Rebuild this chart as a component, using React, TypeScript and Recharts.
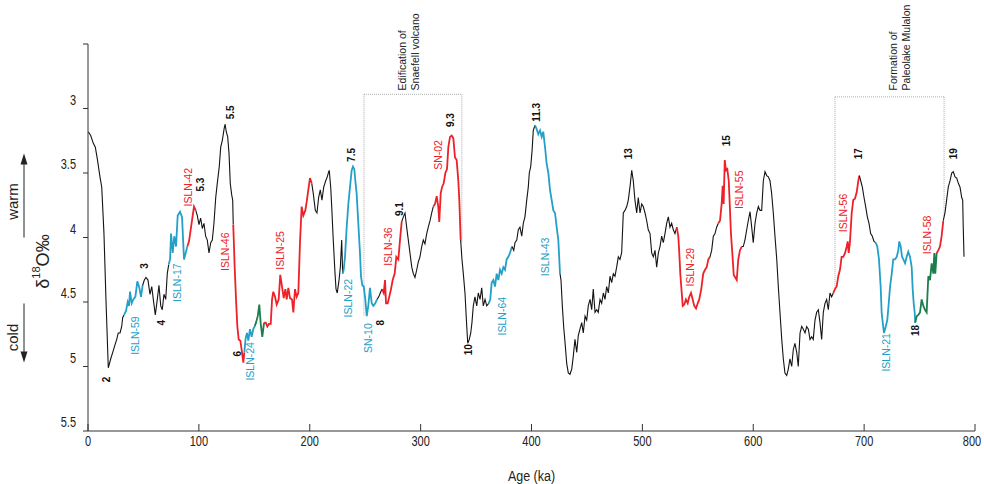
import React from 'react';
import { LineChart, Line, XAxis, YAxis, ReferenceLine, ReferenceDot, Label } from 'recharts';

// benthic d18O record (age in ka, d18O in per mil)
const ages = [
  0.3, 2.4, 4.8, 6.6, 8.4, 10.8, 12.4, 14.4, 16.2, 18.3, 20.5, 22.3, 24.4, 25.9, 27.3, 28.9, 30.4, 31.3,
  32.5, 34.3, 35.8, 37.0, 37.9, 39.4, 40.9, 42.7, 44.5, 46.3, 47.8,
  49.3, 50.8, 52.3, 54.1, 55.9, 57.5, 58.9, 60.7, 62.5, 64.0, 65.6, 67.0, 68.5, 70.1, 71.5,
  72.8, 74.0, 74.9, 76.4, 77.8, 79.4, 80.9, 83.0, 84.8, 86.6, 88.4,
  89.6, 91.1, 92.6, 94.1, 95.6,
  97.2, 98.6, 100.1, 101.6, 103.1, 104.6, 106.1, 107.6, 109.1, 110.7, 112.1, 113.6, 115.2, 116.6, 118.4, 119.7, 121.1, 122.7, 123.6, 124.7, 126.0, 127.2, 128.3, 129.6, 130.5,
  131.0, 132.3, 133.5, 134.7, 135.9, 137.4, 138.9, 140.1,
  141.0, 142.2, 143.4, 144.6, 146.1, 147.6, 149.1,
  150.3, 151.5, 153.1, 154.5, 155.8, 157.2,
  158.8, 160.3, 161.7, 163.2, 164.8, 166.0, 167.1, 168.7, 170.2, 172.0, 173.4, 175.0, 176.5, 178.0, 179.2, 180.7, 182.2, 184.0, 185.2, 186.7, 188.2, 189.7, 191.2, 192.7, 194.2, 196.0, 197.3, 198.7, 200.2,
  201.8, 203.2, 205.0, 206.5, 208.0, 209.5, 211.0, 212.6, 214.4, 215.8, 217.1, 217.6, 218.9, 219.8, 221.2, 222.8, 223.7, 224.8, 226.4, 227.6, 228.8,
  229.7, 230.6, 231.8, 233.3, 234.8, 236.3, 237.8, 239.0, 240.2, 241.1, 242.3, 243.8, 245.3, 246.2, 247.4, 248.7, 250.1, 251.4, 252.8, 254.3, 255.9, 257.3, 259.1,
  260.7, 262.2, 263.6,
  265.2, 266.7, 267.9, 268.8, 270.3, 271.7, 273.3, 274.8, 276.6, 278.1, 279.9, 281.4,
  282.9, 284.4, 285.9, 287.4, 288.9, 290.4, 292.0, 293.4, 294.9, 296.5, 297.9, 299.4, 301.0, 302.4, 303.9, 305.5, 306.9, 308.5, 310.0,
  311.4, 313.0, 314.5, 315.9, 316.8, 318.1, 319.3, 320.8, 322.3, 323.8, 325.0, 326.5, 328.0, 329.5, 331.0, 332.5, 334.0, 334.9,
  336.1, 337.3, 338.5, 340.0, 341.6, 342.5, 343.9, 345.2, 346.3, 347.5, 349.0, 350.6, 352.0, 353.6, 355.1, 356.5, 358.1, 359.6,
  361.4, 362.8, 364.1, 365.6, 367.1, 368.6, 370.1, 371.6, 373.1, 374.6, 376.1, 377.6, 379.1, 380.6,
  382.4, 384.0, 385.1, 386.7, 388.1, 389.6, 391.2, 392.6, 394.1, 395.7, 397.1, 398.0, 399.3, 400.5, 401.6,
  403.2, 404.7, 406.1, 407.7, 409.2, 410.6, 412.2, 413.7, 415.2, 416.7, 418.2, 419.7, 421.2, 422.7, 424.2,
  425.7, 426.6, 427.8, 429.0, 430.5, 431.8, 433.2, 434.7, 436.3, 437.7, 439.2, 440.8, 442.2, 443.7, 445.3, 446.7, 448.3, 449.8, 451.2, 452.8, 454.3, 455.7, 457.3, 458.8, 460.2,
  461.8, 463.3, 464.8, 466.3, 467.8, 469.3, 470.8, 472.3, 473.8, 475.3, 476.8, 478.3, 479.8, 481.3, 482.8, 484.3, 485.9, 487.3, 488.8, 490.4, 491.8, 493.3, 494.9, 496.3, 497.9,
  499.4, 500.8, 502.4, 503.9, 505.3, 506.9, 508.4, 509.9, 511.4, 512.9, 514.4, 515.9, 517.4, 518.9, 520.4, 521.9, 523.4, 524.9, 526.4, 527.9, 529.4,
  531.0, 532.4, 533.3, 534.2, 535.5, 536.4, 537.8, 539.3, 540.9, 542.3, 543.9, 545.4, 546.8, 548.4, 549.9, 551.3, 553.1, 554.9, 556.5, 558.0, 559.5,
  561.0, 562.5, 564.0, 565.5, 567.0,
  568.5, 570.0, 571.5, 572.4, 573.3, 574.3, 575.4, 576.6, 577.9, 578.8, 579.9, 581.1, 582.4, 583.8, 585.1, 586.5, 588.0,
  589.6, 591.0, 592.5, 594.1, 595.5, 597.1, 598.6, 600.0, 601.6, 603.1, 604.6, 606.1, 607.6, 609.1, 610.6, 612.1, 613.6, 615.1, 616.6, 618.1,
  619.6, 621.2, 622.6, 624.1, 625.7, 627.1, 628.6, 630.2, 631.6, 633.1, 634.7, 636.1, 637.6, 639.2, 640.6, 642.2, 643.7, 645.1, 646.7, 648.2,
  649.7, 651.2, 652.7, 654.1, 655.7, 657.2, 658.7, 660.2, 661.7, 663.2, 664.7, 666.2, 667.7, 669.2, 670.7,
  672.2, 673.7, 675.2, 676.7, 678.2, 679.7, 681.2, 682.8, 684.3, 685.2, 686.1, 687.2, 688.8, 690.2, 691.7, 693.3, 694.8,
  695.7, 696.9, 698.4, 699.9, 701.4, 702.9, 704.4, 705.9, 707.4, 708.9,
  710.4, 711.9, 713.4, 714.9, 715.8, 716.8, 717.9, 719.5, 720.9, 722.2, 723.4, 724.9, 726.3, 727.8, 729.4, 730.8, 731.7, 733.0, 734.2, 735.4, 736.9, 738.4, 739.8, 741.4, 742.9, 743.8, 744.7, 745.6,
  746.1, 747.4, 748.9, 750.4, 751.9, 753.4, 754.9, 756.4, 757.9, 759.4, 760.9, 762.4, 763.3, 764.2,
  765.4, 766.9, 768.4, 769.9,
  771.4, 772.9, 774.4, 775.9, 777.5, 779.0, 780.4, 782.0, 783.5, 785.0, 786.5, 788.0, 788.9, 789.4, 790.1,
];

const d18O = [
  3.18, 3.21, 3.27, 3.30, 3.39, 3.53, 3.61, 3.97, 4.48, 5.01, 4.94, 4.89, 4.83, 4.79, 4.74, 4.74, 4.69, 4.62,
  4.60, 4.57, 4.50, 4.53, 4.42, 4.51, 4.48, 4.46, 4.34, 4.39, 4.46,
  4.37, 4.33, 4.31, 4.33, 4.44, 4.38, 4.48, 4.60, 4.48, 4.37, 4.53, 4.56, 4.44, 4.48, 4.28,
  4.21, 4.17, 3.97, 4.12, 3.99, 4.07, 3.83, 3.80, 3.84, 4.17, 4.11,
  4.07, 4.03, 3.94, 3.85, 3.76,
  3.79, 3.83, 3.90, 3.85, 3.93, 3.89, 3.99, 4.02, 4.12, 4.04, 4.02, 3.89, 3.69, 3.58, 3.45, 3.30, 3.25, 3.16, 3.12, 3.18, 3.22, 3.35, 3.58, 3.67, 3.71,
  3.90, 4.23, 4.48, 4.69, 4.79, 4.80, 4.89, 4.97,
  4.89, 4.78, 4.74, 4.80, 4.71, 4.77, 4.71,
  4.69, 4.66, 4.61, 4.52, 4.67, 4.77,
  4.66, 4.66, 4.69, 4.67, 4.67, 4.48, 4.42, 4.46, 4.52, 4.48, 4.29, 4.38, 4.47, 4.40, 4.48, 4.39, 4.47, 4.48, 4.58, 4.40, 4.46, 4.43, 4.04, 3.76, 3.83, 3.79, 3.72, 3.63, 3.54,
  3.58, 3.66, 3.79, 3.81, 3.69, 3.63, 3.71, 3.61, 3.56, 3.53, 3.49, 3.48, 3.61, 3.76, 4.02, 4.28, 4.40, 4.43, 4.33, 4.23, 4.02,
  4.28, 4.25, 4.15, 3.92, 3.74, 3.61, 3.48, 3.45, 3.47, 3.56, 3.66, 3.89, 4.12, 4.30, 4.37, 4.38, 4.48, 4.61, 4.53, 4.39, 4.51, 4.53, 4.51,
  4.48, 4.46, 4.43,
  4.40, 4.43, 4.33, 4.51, 4.51, 4.46, 4.40, 4.33, 4.28, 4.15, 4.17, 4.02,
  3.88, 3.84, 3.81, 3.92, 4.02, 4.12, 4.23, 4.28, 4.31, 4.25, 4.19, 4.15, 4.07, 4.02, 4.05, 3.97, 3.92, 3.87, 3.81,
  3.76, 3.74, 3.68, 3.76, 3.88, 3.66, 3.61, 3.58, 3.50, 3.47, 3.30, 3.22, 3.21, 3.23, 3.38, 3.40, 3.56, 3.71,
  4.02, 4.17, 4.28, 4.43, 4.69, 4.82, 4.79, 4.74, 4.66, 4.53, 4.46, 4.53, 4.43, 4.48, 4.39, 4.53, 4.48, 4.53,
  4.51, 4.48, 4.35, 4.33, 4.38, 4.28, 4.33, 4.25, 4.28, 4.23, 4.25, 4.17, 4.15, 4.12,
  4.07, 4.10, 4.04, 4.02, 3.94, 3.92, 3.99, 3.89, 3.84, 3.71, 3.61, 3.50, 3.45, 3.33, 3.17,
  3.13, 3.16, 3.20, 3.17, 3.22, 3.18, 3.30, 3.43, 3.50, 3.63, 3.71, 3.79, 3.81, 3.92, 4.02,
  4.28, 4.33, 4.53, 4.69, 4.84, 4.98, 5.05, 5.06, 5.02, 4.92, 4.79, 4.89, 4.76, 4.71, 4.66, 4.74, 4.61, 4.64, 4.53, 4.48, 4.56, 4.40, 4.58, 4.56, 4.58,
  4.48, 4.51, 4.43, 4.48, 4.38, 4.43, 4.30, 4.35, 4.28, 4.30, 4.23, 4.15, 4.17, 4.12, 3.81, 3.79, 3.76, 3.71, 3.61, 3.48, 3.56, 3.71, 3.81, 3.69, 3.81,
  3.74, 3.76, 3.81, 3.87, 3.94, 3.97, 4.12, 4.15, 4.10, 4.23, 4.12, 4.07, 3.99, 4.04, 3.97, 3.89, 3.84, 3.92, 3.89, 3.94, 3.97,
  3.92, 3.99, 4.12, 4.28, 4.43, 4.53, 4.52, 4.48, 4.51, 4.46, 4.43, 4.48, 4.53, 4.55, 4.51, 4.48, 4.40, 4.28, 4.25, 4.23, 4.17,
  4.15, 4.10, 3.99, 3.97, 3.92,
  3.89, 3.87, 3.74, 3.60, 3.74, 3.40, 3.48, 3.47, 3.56, 3.74, 3.97, 4.12, 4.29, 4.31, 4.33, 4.17, 4.10,
  4.07, 4.07, 4.02, 3.94, 3.87, 3.80, 3.92, 4.04, 3.89, 3.81, 3.76, 3.79, 3.79, 3.56, 3.49, 3.52, 3.53, 3.56, 3.66, 3.81,
  3.99, 4.17, 4.38, 4.58, 4.79, 4.94, 5.05, 5.07, 5.02, 4.94, 5.00, 4.87, 4.82, 4.89, 5.00, 4.74, 4.69, 4.71, 4.74, 4.69,
  4.71, 4.79, 4.77, 4.79, 4.64, 4.58, 4.56, 4.66, 4.79, 4.58, 4.51, 4.48, 4.56, 4.43, 4.46,
  4.43, 4.40, 4.38, 4.30, 4.25, 4.15, 4.15, 4.12, 4.07, 4.03, 4.12, 4.04, 3.81, 3.71, 3.70, 3.65, 3.56,
  3.52, 3.56, 3.61, 3.69, 3.76, 3.84, 3.89, 3.97, 3.99, 4.03,
  4.04, 4.07, 4.17, 4.38, 4.58, 4.66, 4.74, 4.69, 4.64, 4.51, 4.38, 4.28, 4.17, 4.17, 4.15, 4.10, 4.03, 4.07, 4.15, 4.17, 4.20, 4.15, 4.11, 4.15, 4.23, 4.40, 4.51, 4.58,
  4.66, 4.61, 4.60, 4.58, 4.48, 4.53, 4.56, 4.58, 4.30, 4.33, 4.20, 4.28, 4.12, 4.28,
  4.12, 4.10, 4.07, 3.99,
  3.87, 3.81, 3.71, 3.61, 3.56, 3.50, 3.49, 3.53, 3.54, 3.58, 3.61, 3.69, 3.71, 3.92, 4.15,
];

// which sample group each stretch of the record belongs to: [from ka, to ka, group]
const stretches: [number, number, string][] = [
  [0.3, 32.5, 'k'], [32.5, 49.3, 'b'], [49.3, 72.8, 'k'], [72.8, 89.6, 'b'], [89.6, 97.2, 'r'],
  [97.2, 131.0, 'k'], [131.0, 141.0, 'r'], [141.0, 150.3, 'b'], [150.3, 158.8, 'g'], [158.8, 201.8, 'r'],
  [201.8, 229.7, 'k'], [229.7, 260.7, 'b'], [260.7, 265.2, 'k'], [265.2, 282.9, 'r'], [282.9, 311.4, 'k'],
  [311.4, 336.1, 'r'], [336.1, 361.4, 'k'], [361.4, 382.4, 'b'], [382.4, 403.2, 'k'], [403.2, 425.7, 'b'],
  [425.7, 531.0, 'k'], [531.0, 561.0, 'r'], [561.0, 568.5, 'k'], [568.5, 589.6, 'r'], [589.6, 672.2, 'k'],
  [672.2, 695.7, 'r'], [695.7, 710.4, 'k'], [710.4, 746.1, 'b'], [746.1, 765.4, 'g'], [765.4, 771.4, 'r'],
  [771.4, 790.1, 'k'],
];

// marine isotope stage numbers
const stageLabels: [number, number, string][] = [
  [17.1, 5.10, '2'], [51.4, 4.22, '3'], [66.5, 4.66, '4'], [101.4, 3.59, '5.3'], [128.7, 3.03, '5.5'],
  [134.7, 4.90, '6'], [237.8, 3.36, '7.5'], [263.4, 4.66, '8'], [281.4, 3.78, '9.1'], [326.5, 3.09, '9.3'],
  [343.0, 4.87, '10'], [404.7, 3.03, '11.3'], [487.3, 3.35, '13'], [576.1, 3.25, '15'], [694.7, 3.35, '17'],
  [745.9, 4.72, '18'], [780.4, 3.35, '19'],
];

// dated samples
const sampleLabels: [number, number, string, string][] = [
  [42.4, 4.76, 'ISLN-59', 'b'], [80.0, 4.35, 'ISLN-17', 'b'], [90.4, 3.61, 'ISLN-42', 'r'],
  [123.6, 4.11, 'ISLN-46', 'r'], [146.1, 4.96, 'ISLN-24', 'b'], [173.2, 4.10, 'ISLN-25', 'r'],
  [234.8, 4.47, 'ISLN-22', 'b'], [252.8, 4.78, 'SN-10', 'b'], [270.8, 4.07, 'ISLN-36', 'r'],
  [316.0, 3.36, 'SN-02', 'r'], [373.1, 4.61, 'ISLN-64', 'b'], [412.2, 4.15, 'ISLN-43', 'b'],
  [542.9, 4.23, 'ISLN-29', 'r'], [587.4, 3.63, 'ISLN-55', 'r'], [681.2, 3.81, 'ISLN-56', 'r'],
  [719.7, 4.89, 'ISLN-21', 'b'], [756.4, 3.98, 'ISLN-58', 'r'],
];

// bracketed events: text lines, bracket ends (ka), bracket top, where each leg meets the curve
const events = [
  { text: ['Edification of', 'Snaefell volcano'], textAge: [282.9, 294.9], from: 248.9, to: 337.2, top: 2.89, fromEnd: 4.61, toEnd: 4.04 },
  { text: ['Formation of', 'Paleolake Mulalon'], textAge: [726.0, 737.5], from: 673.7, to: 772.1, top: 2.91, fromEnd: 4.40, toEnd: 3.84 },
];

const xTicks = [0, 100, 200, 300, 400, 500, 600, 700, 800];
const yTicks = [2.5, 3, 3.5, 4, 4.5, 5, 5.5];

const COLORS: Record<string, string> = { k: '#141414', b: '#23a0c8', r: '#ee2128', g: '#1d7d4c' };
const FONT = "'Liberation Sans', Arial, sans-serif";
const AXIS = '#333';

const record = ages.map((age, i) => ({ age, d18O: d18O[i] }));

const rotated = (text: string, color: string, size: number, bold = false, anchor = 'middle') => (p: any) => (
  <text
    x={p.cx}
    y={p.cy}
    transform={`rotate(-90 ${p.cx} ${p.cy})`}
    textAnchor={anchor}
    dominantBaseline="central"
    fill={color}
    fontSize={size}
    fontWeight={bold ? 'bold' : 'normal'}
    fontFamily={FONT}
  >
    {text}
  </text>
);

// the source figure was stretched vertically, so horizontal text is drawn tall and narrow
const TallText = ({ x, y, size, children, anchor = 'middle' }: any) => (
  <text
    transform={`translate(${x} ${y}) scale(1 1.25)`}
    textAnchor={anchor}
    dominantBaseline="central"
    fontSize={size}
    fontFamily={FONT}
    fill="#222"
  >
    {children}
  </text>
);

const YTick = ({ x, y, payload }: any) =>
  payload.value === 2.5 ? <g /> : <TallText x={x} y={y - 8} size={11} anchor="end">{payload.value}</TallText>;

const XTick = ({ x, y, payload }: any) => (
  <g>
    <line x1={x} x2={x} y1={y} y2={y - 7} stroke={AXIS} />
    <TallText x={payload.value === 800 ? x - 3 : x} y={y + 11} size={11}>{payload.value}</TallText>
  </g>
);

const YTitle = ({ viewBox }: any) => {
  const cy = viewBox.y + viewBox.height / 2;
  const ax = 24;
  return (
    <g fill="#222" fontFamily={FONT}>
      <text x={12} y={cy - 36} transform={`rotate(-90 12 ${cy - 36})`} textAnchor="middle" dominantBaseline="central" fontSize={15}>warm</text>
      <text x={12} y={cy + 100} transform={`rotate(-90 12 ${cy + 100})`} textAnchor="middle" dominantBaseline="central" fontSize={15}>cold</text>
      <line x1={ax} x2={ax} y1={cy} y2={cy - 76} stroke="#222" strokeWidth={1} />
      <polygon points={`${ax},${cy - 84} ${ax - 3.5},${cy - 73} ${ax + 3.5},${cy - 73}`} fill="#222" />
      <line x1={ax} x2={ax} y1={cy + 66} y2={cy + 117} stroke="#222" strokeWidth={1} />
      <polygon points={`${ax},${cy + 125} ${ax - 3.5},${cy + 114} ${ax + 3.5},${cy + 114}`} fill="#222" />
      <text x={43} y={cy + 24} transform={`rotate(-90 43 ${cy + 24})`} textAnchor="middle" dominantBaseline="central" fontSize={18}>
        δ<tspan fontSize={11} dy={-7}>18</tspan><tspan dy={7}>O‰</tspan>
      </text>
    </g>
  );
};

const XTitle = ({ viewBox }: any) => (
  <text
    transform={`translate(${viewBox.x + viewBox.width / 2} ${viewBox.y + 45}) scale(1 1.2)`}
    textAnchor="middle"
    dominantBaseline="central"
    fontSize={12.5}
    fontFamily={FONT}
    fill="#222"
  >
    Age (ka)
  </text>
);

export default function App() {
  return (
    <div style={{ position: 'absolute', left: 0, top: 0, width: 984, height: 484, background: '#fff' }}>
      <LineChart width={984} height={484} margin={{ top: 44, right: 9, bottom: 0, left: 0 }}>
        <XAxis
          type="number"
          dataKey="age"
          domain={[0, 800]}
          ticks={xTicks}
          height={53}
          stroke={AXIS}
          tickLine={false}
          tickSize={0}
          tickMargin={0}
          tick={<XTick />}
          interval={0}
        >
          <Label content={<XTitle />} />
        </XAxis>
        <YAxis
          type="number"
          domain={[2.5, 5.5]}
          reversed
          ticks={yTicks}
          width={88}
          stroke={AXIS}
          tickSize={5}
          tickMargin={7}
          tick={<YTick />}
          interval={0}
        >
          <Label content={<YTitle />} />
        </YAxis>

        {events.map((e, i) => (
          <React.Fragment key={`ev-${i}`}>
            <ReferenceLine segment={[{ x: e.from, y: e.top }, { x: e.to, y: e.top }]} stroke="#aaa" strokeDasharray="1 1" />
            <ReferenceLine segment={[{ x: e.from, y: e.top }, { x: e.from, y: e.fromEnd }]} stroke="#aaa" strokeDasharray="1 1" />
            <ReferenceLine segment={[{ x: e.to, y: e.top }, { x: e.to, y: e.toEnd }]} stroke="#aaa" strokeDasharray="1 1" />
            {e.text.map((t, j) => (
              <ReferenceDot key={t} x={e.textAge[j]} y={2.86} r={0} ifOverflow="visible" shape={rotated(t, '#222', 10.5, false, 'start')} />
            ))}
          </React.Fragment>
        ))}

        {stretches.map(([from, to, grp], i) => (
          <Line
            key={`s-${i}`}
            data={record.filter((p) => p.age >= from && p.age <= to)}
            dataKey="d18O"
            type="linear"
            stroke={COLORS[grp]}
            strokeWidth={grp === 'k' ? 1.1 : 1.8}
            dot={false}
            activeDot={false}
            isAnimationActive={false}
          />
        ))}

        {stageLabels.map(([a, v, t]) => (
          <ReferenceDot key={`st-${t}`} x={a} y={v} r={0} ifOverflow="visible" shape={rotated(t, '#111', 10, true)} />
        ))}
        {sampleLabels.map(([a, v, t, grp]) => (
          <ReferenceDot key={`sm-${t}`} x={a} y={v} r={0} ifOverflow="visible" shape={rotated(t, COLORS[grp], 10.5)} />
        ))}
      </LineChart>
    </div>
  );
}
